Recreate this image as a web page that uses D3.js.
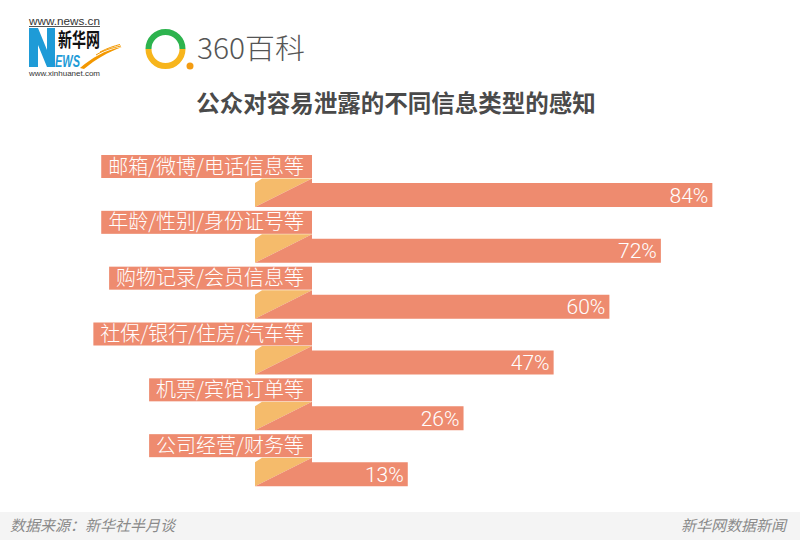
<!DOCTYPE html>
<html>
<head>
<meta charset="utf-8">
<script src="https://cdn.jsdelivr.net/npm/d3@7"></script>
<style>
  html, body { margin: 0; padding: 0; background: #fff; }
  svg { display: block; }
</style>
</head>
<body>
<svg id="chart" width="800" height="540"></svg>
<script>
// ---- data ----
const categories = [
  "邮箱/微博/电话信息等",
  "年龄/性别/身份证号等",
  "购物记录/会员信息等",
  "社保/银行/住房/汽车等",
  "机票/宾馆订单等",
  "公司经营/财务等"
];
const values = [84, 72, 60, 47, 26, 13];
const valueLabels = ["84%", "72%", "60%", "47%", "26%", "13%"];
const title = "公众对容易泄露的不同信息类型的感知";
const sourceText = "数据来源：新华社半月谈";
const creditText = "新华网数据新闻";

// ---- styles ----
const salmon = "#EE8B6F";
const yellow = "#F5BB6B";
const cjk = "'Noto Sans CJK SC', 'Noto Sans', sans-serif";

const svg = d3.select("#chart");

// ---- scales ----
const y = d3.scaleBand().domain(categories).range([155, 490]);
const x = d3.scaleLinear().domain([0, 100]).range([352, 781]);
const foldL = 255, foldR = 312;
const boxH = 23, barOff = 28, barH = 24;

// ---- logos ----
const logo = svg.append("g");
// Xinhua
logo.append("text").attr("x", 29).attr("y", 24.5).attr("font-family", "'Liberation Sans', Arial, sans-serif")
  .attr("font-size", 10).attr("fill", "#333").attr("textLength", 71).attr("lengthAdjust", "spacingAndGlyphs")
  .text("www.news.cn");
logo.append("rect").attr("x", 29).attr("y", 26).attr("width", 71).attr("height", 1).attr("fill", "#555");
logo.append("path").attr("fill", "#1E9BD7")
  .attr("d", "M29,28 L38,28 L47,50 L47,28 L55,28 L55,67 L47,67 L38,45 L38,67 L29,67 Z");
logo.append("text").attr("x", 58).attr("y", 47).attr("font-family", cjk).attr("font-weight", 700)
  .attr("font-size", 19).attr("fill", "#111").attr("textLength", 42).attr("lengthAdjust", "spacingAndGlyphs")
  .text("新华网");
logo.append("text").attr("x", 55).attr("y", 67).attr("font-family", "'Liberation Sans', Arial, sans-serif")
  .attr("font-weight", 700).attr("font-style", "italic").attr("font-size", 16).attr("fill", "#1E9BD7")
  .attr("textLength", 25).attr("lengthAdjust", "spacingAndGlyphs").text("EWS");
logo.append("path").attr("fill", "#F39800")
  .attr("d", "M80,68 C92,58 104,50 122,47 C108,52 96,59 84,69 Z");
logo.append("path").attr("fill", "none").attr("stroke", "#F39800").attr("stroke-width", 1)
  .attr("d", "M96,55 C104,50 112,48 121,46 M100,52 C108,48 114,46 120,44.5");
logo.append("text").attr("x", 29).attr("y", 76).attr("font-family", "'Liberation Sans', Arial, sans-serif")
  .attr("font-size", 7.5).attr("fill", "#333").attr("textLength", 71).attr("lengthAdjust", "spacingAndGlyphs")
  .text("www.xinhuanet.com");
// 360
const cx = 165.5, cy = 49, r = 17;
logo.append("path").attr("fill", "none").attr("stroke", "#2DB34E").attr("stroke-width", 6)
  .attr("d", `M${cx - r},${cy} A${r},${r} 0 0 1 ${cx + r},${cy}`);
logo.append("path").attr("fill", "none").attr("stroke", "#F7B51C").attr("stroke-width", 6)
  .attr("d", `M${cx + r},${cy} A${r},${r} 0 0 1 ${cx - r},${cy}`);
logo.append("circle").attr("cx", 190).attr("cy", 66).attr("r", 3.5).attr("fill", "#F39C12");
logo.append("text").attr("x", 197).attr("y", 59).attr("font-family", cjk).attr("font-weight", 300)
  .attr("font-size", 28).attr("fill", "#555").attr("textLength", 108).attr("lengthAdjust", "spacingAndGlyphs")
  .text("360百科");

// ---- title ----
svg.append("text").attr("x", 396).attr("y", 112).attr("text-anchor", "middle")
  .attr("font-family", cjk).attr("font-weight", 700).attr("font-size", 23.5).attr("fill", "#4A4A4A")
  .text(title);

// ---- rows ----
const rows = svg.append("g").selectAll("g").data(categories).join("g")
  .attr("transform", d => `translate(0,${y(d)})`);

rows.each(function(d, i) {
  const g = d3.select(this);
  const t = g.append("text").attr("x", foldR - 8).attr("y", 18.5).attr("text-anchor", "end")
    .attr("font-family", cjk).attr("font-size", 20).attr("font-weight", 300)
    .attr("fill", "#fff").text(d);
  const len = t.node().getComputedTextLength();
  g.insert("rect", "text").attr("x", foldR - 8 - len - 7).attr("y", 0)
    .attr("width", len + 15).attr("height", boxH).attr("fill", salmon);
  // fold (yellow)
  g.append("path").attr("fill", yellow)
    .attr("d", `M${foldL},${barOff} L${foldL + 7},${boxH + 0.5} L${foldR},${boxH + 0.5} L${foldL},${barOff + barH} Z`);
  // bar with folded diagonal
  const xe = x(values[i]);
  g.append("path").attr("fill", salmon)
    .attr("d", `M${foldL},${barOff + barH} L${foldR},${boxH + 0.5} L${foldR},${barOff} L${xe},${barOff} L${xe},${barOff + barH} Z`);
  g.append("text").attr("x", xe - 4).attr("y", barOff + 19.5).attr("text-anchor", "end")
    .attr("font-family", "Roboto, 'Open Sans', sans-serif").attr("font-weight", 300)
    .attr("font-size", 21).attr("fill", "#fff").text(valueLabels[i]);
});

// ---- footer ----
svg.append("rect").attr("x", 0).attr("y", 512).attr("width", 800).attr("height", 28).attr("fill", "#F4F4F4");
svg.append("text").attr("x", 10).attr("y", 531).attr("font-family", cjk).attr("font-style", "italic")
  .attr("font-size", 15).attr("fill", "#8A8A8A")
  .text(sourceText);
svg.append("text").attr("x", 786).attr("y", 531).attr("text-anchor", "end").attr("font-family", cjk)
  .attr("font-style", "italic").attr("font-size", 15).attr("fill", "#8A8A8A")
  .text(creditText);
</script>
</body>
</html>
